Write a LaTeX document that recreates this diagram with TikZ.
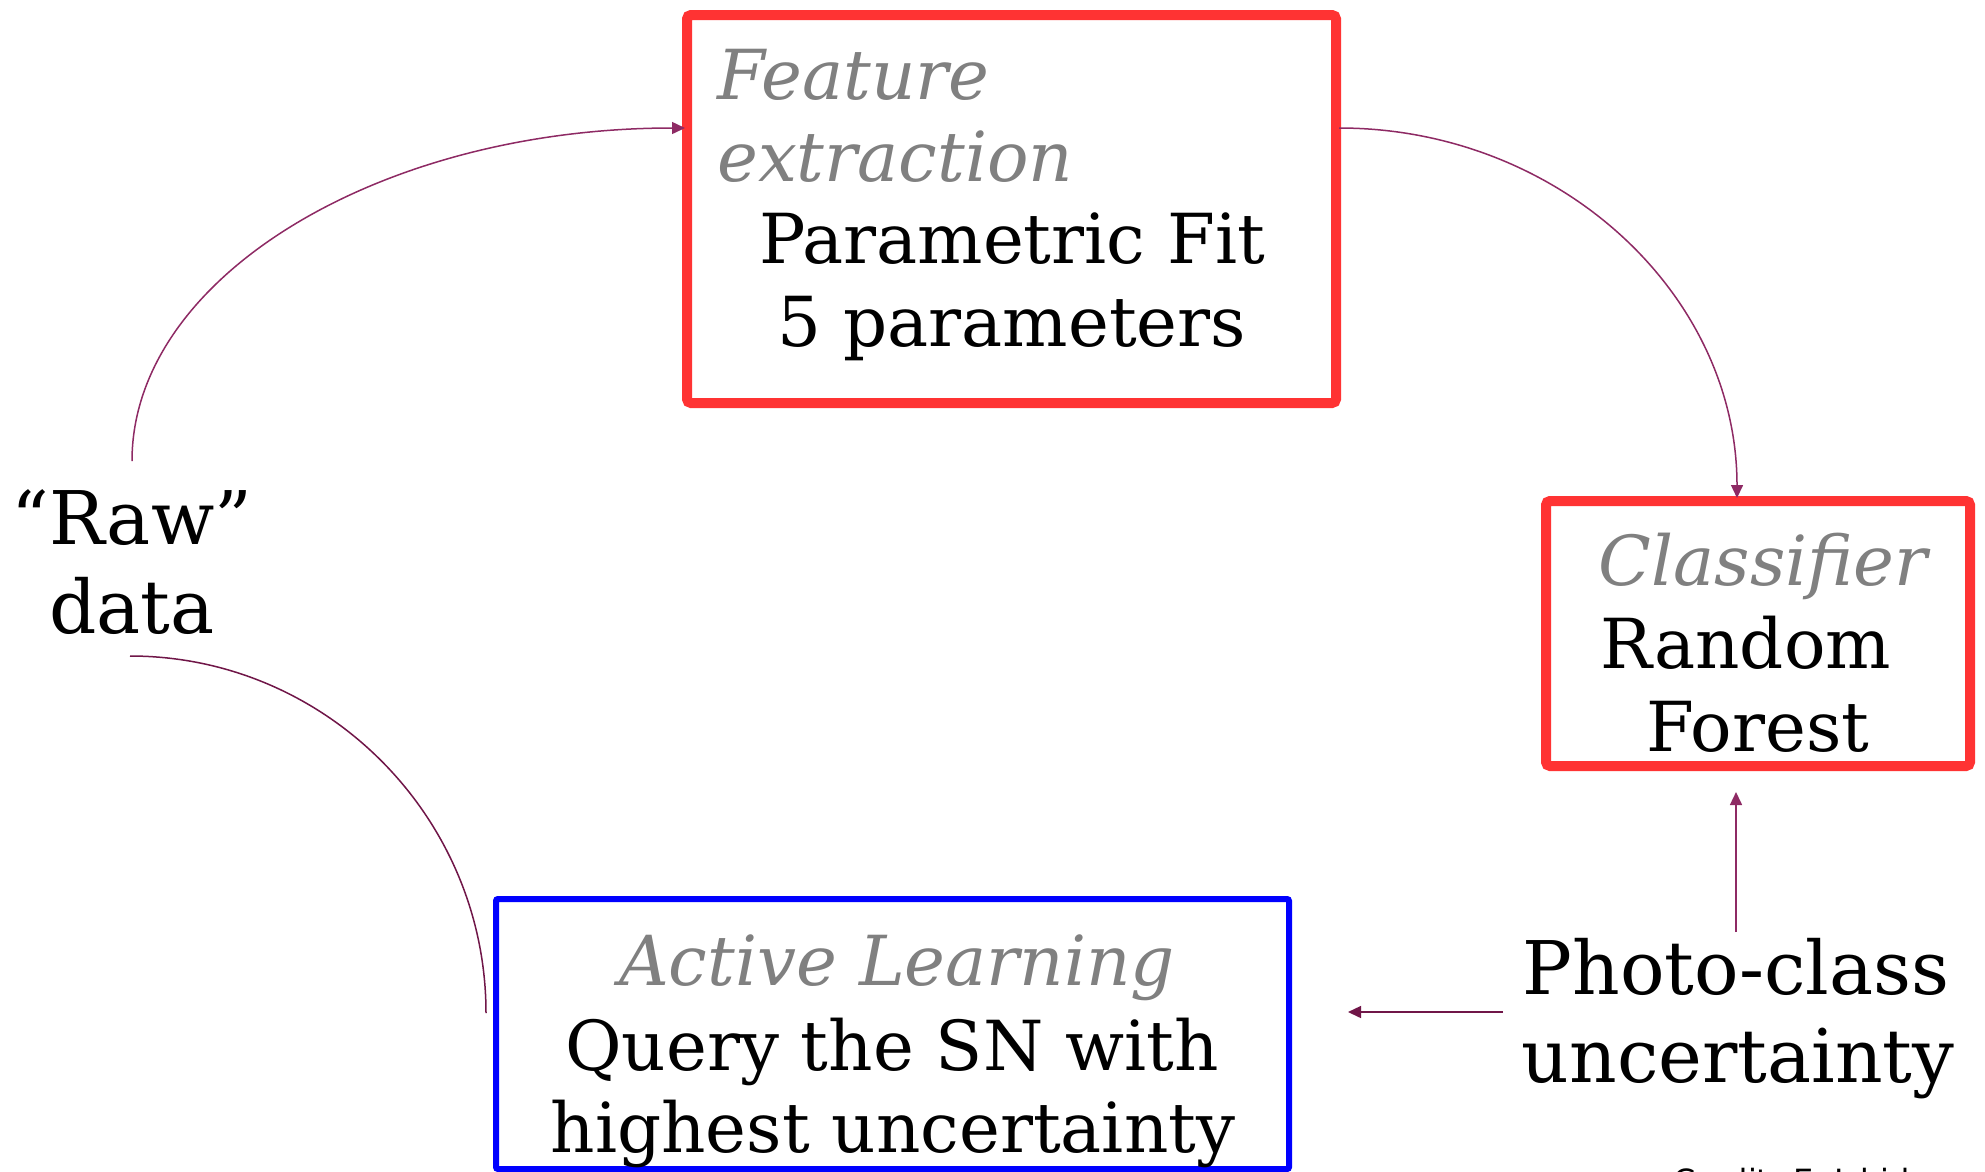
\documentclass[tikz,border=0pt]{standalone}
\usepackage{fontspec}
\setmainfont{DejaVu Serif}
\newfontfamily\creditfont{DejaVu Sans}
\usetikzlibrary{arrows.meta,calc}
\definecolor{boxred}{RGB}{255,51,51}
\definecolor{boxblue}{RGB}{0,0,255}
\definecolor{labelgray}{RGB}{128,128,128}
\definecolor{linkA}{RGB}{142,42,100}
\definecolor{linkB}{RGB}{112,22,72}
\begin{document}
\begin{tikzpicture}[x=1pt,y=-1pt,
  redbox/.style={rectangle,draw=boxred,line width=10pt,rounded corners=4pt,outer sep=0pt,inner sep=0pt},
  bluebox/.style={rectangle,draw=boxblue,line width=6pt,rounded corners=2pt,outer sep=0pt,inner sep=0pt},
  lbl/.style={anchor=base,inner sep=0pt,font=\fontsize{69}{82}\selectfont},
  hdr/.style={lbl,text=labelgray,font=\fontsize{69}{82}\selectfont\itshape},
  big/.style={lbl,font=\fontsize{74}{88}\selectfont},
  link/.style={draw=linkA,line width=1.5pt,-{Triangle[length=13pt,width=12pt]}},
  linkdark/.style={link,draw=linkB},
  plainlink/.style={draw=linkB,line width=1.5pt}]
\fill[white] (0,0) rectangle (1985,1171);
\useasboundingbox (0,0) rectangle (1985,1171);

% boxes
\node[redbox,minimum width=649pt,minimum height=388pt] (feat) at (1011.5,209) {};
\node[redbox,minimum width=424pt,minimum height=265pt] (clf) at (1758,633.5) {};
\node[bluebox,minimum width=793pt,minimum height=270pt] (al) at (892.5,1034) {};

% texts
\node[hdr,anchor=base west] (featA) at (717,99) {Feature};
\node[hdr,anchor=base west] (featB) at (717,181) {extraction};
\node[lbl] (featC) at (1012,263) {Parametric Fit};
\node[lbl] (featD) at (1012,346) {5 parameters};
\node[hdr] (clfA) at (1763,585) {Classifier};
\node[lbl] (clfB) at (1746,668) {Random};
\node[lbl] (clfC) at (1758,751) {Forest};
\node[hdr] (alA) at (897,985) {Active Learning};
\node[lbl] (alB) at (892,1070) {Query the SN with};
\node[lbl] (alC) at (893,1152) {highest uncertainty};
\node[big] (rawA) at (132,544) {“Raw”};
\node[big] (rawB) at (132,633) {data};
\node[big] (phA) at (1736,994) {Photo-class};
\node[big] (phB) at (1738,1082) {uncertainty};
\node[anchor=base west,inner sep=0pt,font=\creditfont\fontsize{32}{38}\selectfont] (credit) at (1673,1192) {Credit: E. Ishida};

% connectors
\draw[link] ($(rawA.base)+(0,-83)$) .. controls +(0,-184) and +(-305,0) .. ($(feat.north west)+(-2,113)$);
\draw[link] ($(feat.north east)+(3,113)$) .. controls +(220,0) and +(0,-204) .. ($(clf.north)+(-21,-3)$);
\draw[link] ($(phA.base)+(0,-62)$) -- ($(clf.south)+(-22,26)$);
\draw[linkdark] ($(phA.base)+(-233,18)$) -- ($(al.east)+(59,-22)$);
\draw[plainlink] ($(rawB.base)+(-2,23)$) .. controls +(196,0) and +(0,-196) .. ($(al.west)+(-10,-21)$);
\end{tikzpicture}
\end{document}
